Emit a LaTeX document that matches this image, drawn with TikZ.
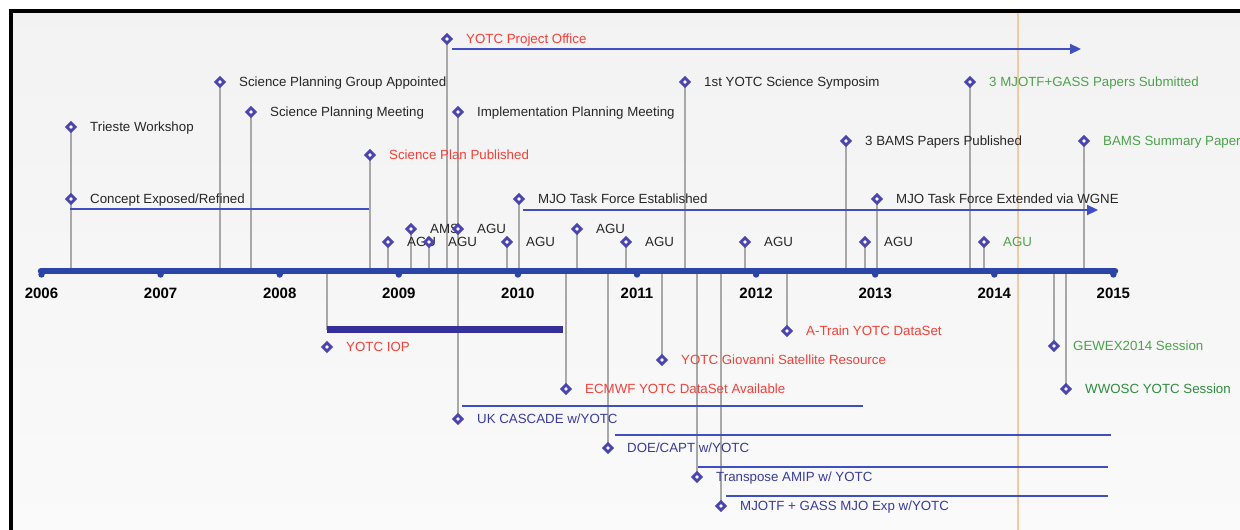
\documentclass[tikz,border=0pt]{standalone}
\usepackage{fontspec}
\setmainfont{Liberation Sans}
\usetikzlibrary{shapes.geometric,arrows.meta}
\definecolor{axisblue}{HTML}{2A44A8}
\definecolor{durblue}{HTML}{3F4FC2}
\definecolor{diablue}{HTML}{4B45B0}
\definecolor{stemgray}{HTML}{A8A8A8}
\definecolor{txtgray}{HTML}{262626}
\definecolor{txtred}{HTML}{F2403A}
\definecolor{txtgreen}{HTML}{4CA24C}
\definecolor{txtgreenb}{HTML}{2F8C3F}
\definecolor{txtblue}{HTML}{3A3A9E}
\definecolor{iopblue}{HTML}{35309A}
\definecolor{nowline}{HTML}{F5C9A0}
\pgfdeclarelayer{bg}
\pgfdeclarelayer{stems}
\pgfsetlayers{bg,stems,main}
\newcommand\tlev[5]{%
  \node[dia] (#1) at (#2,#3) {};
  \node[lbl,text=#4] (#1-t) at ({#2+19},{#3+4.6}) {#5};
  \begin{pgfonlayer}{stems}\draw[stem] (#1.center) -- (#1.center |- axL);\end{pgfonlayer}%
}
\newcommand\tlevnostem[5]{%
  \node[dia] (#1) at (#2,#3) {};
  \node[lbl,text=#4] (#1-t) at ({#2+19},{#3+4.6}) {#5};
}
\begin{document}
\begin{tikzpicture}[x=1pt,y=-1pt,
  dia/.style={draw=diablue,fill=white,shape=diamond,line width=2.8pt,inner sep=0pt,minimum width=9.5pt,minimum height=9.5pt},
  lbl/.style={anchor=base west,inner sep=0pt,font=\fontsize{13.3}{15}\selectfont},
  stem/.style={draw=stemgray,line width=1.8pt},
  axisline/.style={draw=axisblue,line width=6.5pt,line cap=round},
  dur/.style={draw=durblue,line width=2pt},
  durarrow/.style={draw=durblue,line width=2.2pt,-{Triangle[length=11pt,width=10pt]}},
  yearlbl/.style={anchor=base,inner sep=0pt,font=\fontsize{15}{17}\bfseries\selectfont,text=black},
  tick/.style={fill=axisblue,draw=none}]
\useasboundingbox (0,0) rectangle (1240,530);
\begin{pgfonlayer}{bg}
\fill[white] (0,0) rectangle (1240,530);
\shade[top color=black!5,middle color=black!11,bottom color=black!2] (12,12) rectangle (1240,530);
\draw[nowline,line width=1.6pt] (1018,12) -- (1018,530);
\draw[black,line width=4pt] (10.5,530) -- (10.5,10.5) -- (1240,10.5);
\end{pgfonlayer}
% axis
\coordinate (axL) at (41,271);
\coordinate (axR) at (1115,271);
\draw[axisline] (axL) -- (axR);
\foreach \i/\yr in {0/2006,1/2007,2/2008,3/2009,4/2010,5/2011,6/2012,7/2013,8/2014,9/2015}{
  \fill[tick] ({41.5+119.1*\i},274.5) circle (3.2pt);
  \node[yearlbl] (y\yr) at ({41.5+119.1*\i},298.5) {\yr};
}
% duration lines
\coordinate (cL) at (70,209); \coordinate (cR) at (369,209);
\draw[dur] (cL) -- (cR);
\coordinate (poL) at (452,49); \coordinate (poR) at (1081,49);
\draw[durarrow] (poL) -- (poR);
\coordinate (tfL) at (523,210); \coordinate (tfR) at (1098,210);
\draw[durarrow] (tfL) -- (tfR);
\coordinate (ukL) at (462,406); \coordinate (ukR) at (863,406);
\draw[dur] (ukL) -- (ukR);
\coordinate (doeL) at (615,435); \coordinate (doeR) at (1111,435);
\draw[dur] (doeL) -- (doeR);
\coordinate (amL) at (698,467); \coordinate (amR) at (1108,467);
\draw[dur] (amL) -- (amR);
\coordinate (mjL) at (726,496); \coordinate (mjR) at (1108,496);
\draw[dur] (mjL) -- (mjR);
% IOP bar
\coordinate (iopL) at (327,329.5); \coordinate (iopR) at (563,329.5);
% top events
\tlev{trieste}{71}{127}{txtgray}{Trieste Workshop}
\tlev{concept}{71}{199}{txtgray}{Concept Exposed/Refined}
\tlev{spga}{220}{82}{txtgray}{Science Planning Group Appointed}
\tlev{spm}{251}{112}{txtgray}{Science Planning Meeting}
\tlev{spp}{370}{155}{txtred}{Science Plan Published}
\tlev{aguA}{388}{242}{txtgray}{AGU}
\tlev{ams}{411}{229}{txtgray}{AMS}
\tlev{aguB}{429}{242}{txtgray}{AGU}
\tlev{ypo}{447}{39}{txtred}{YOTC Project Office}
\tlev{ipm}{458}{112}{txtgray}{Implementation Planning Meeting}
\tlev{aguC}{458}{229}{txtgray}{AGU}
\tlev{aguD}{507}{242}{txtgray}{AGU}
\tlev{mjotf}{519}{199}{txtgray}{MJO Task Force Established}
\tlev{aguE}{577}{229}{txtgray}{AGU}
\tlev{aguF}{626}{242}{txtgray}{AGU}
\tlev{sym}{685}{82}{txtgray}{1st YOTC Science Symposim}
\tlev{aguG}{745}{242}{txtgray}{AGU}
\tlev{bams}{846}{141}{txtgray}{3 BAMS Papers Published}
\tlev{aguH}{865}{242}{txtgray}{AGU}
\tlev{mjoext}{877}{199}{txtgray}{MJO Task Force Extended via WGNE}
\tlev{subm}{970}{82}{txtgreen}{3 MJOTF+GASS Papers Submitted}
\tlev{aguI}{984}{242}{txtgreen}{AGU}
\tlev{bamssum}{1084}{141}{txtgreen}{BAMS Summary Paper}
% bottom events
\tlevnostem{iop}{327}{347}{txtred}{YOTC IOP}
\begin{pgfonlayer}{stems}\draw[stem] (iop.center |- axL) -- (iopL);\end{pgfonlayer}
\draw[draw=iopblue,line width=7pt] (iopL) -- (iopR);
\tlev{ecmwf}{566}{389}{txtred}{ECMWF YOTC DataSet Available}
\tlev{cascade}{458}{419}{txtblue}{UK CASCADE w/YOTC}
\tlev{doe}{608}{448}{txtblue}{DOE/CAPT w/YOTC}
\tlev{giov}{662}{360}{txtred}{YOTC Giovanni Satellite Resource}
\tlev{amip}{697}{477}{txtblue}{Transpose AMIP w/ YOTC}
\tlev{mjoexp}{721}{506}{txtblue}{MJOTF + GASS MJO Exp w/YOTC}
\tlev{atrain}{787}{331}{txtred}{A-Train YOTC DataSet}
\tlev{gewex}{1054}{346}{txtgreen}{GEWEX2014 Session}
\tlev{wwosc}{1066}{389}{txtgreenb}{WWOSC YOTC Session}
\end{tikzpicture}
\end{document}
